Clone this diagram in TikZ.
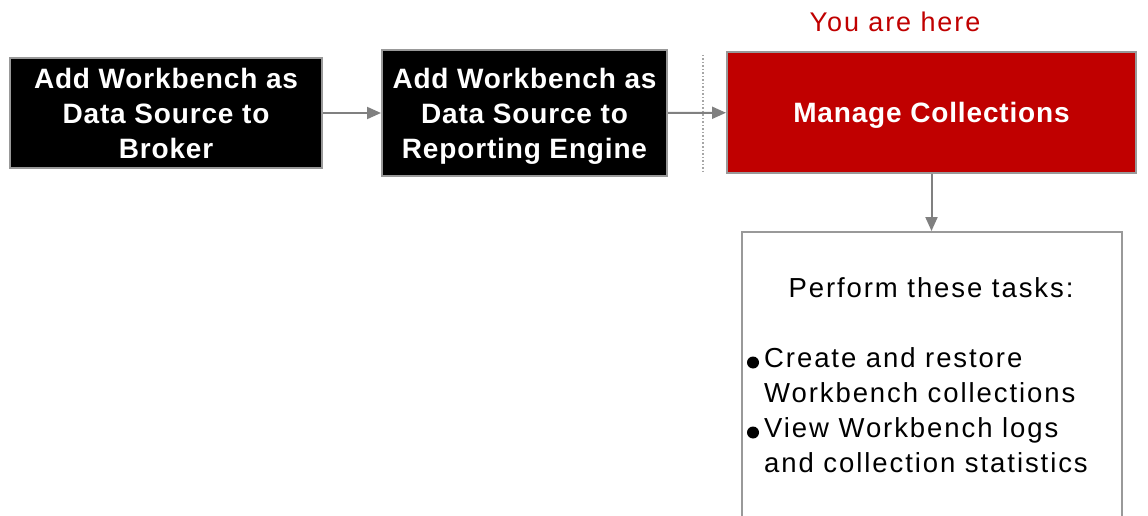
\documentclass[tikz,border=0pt]{standalone}
\usepackage{fontspec}
\setmainfont{Liberation Sans}
\newfontfamily\boldtrack[LetterSpace=3]{Liberation Sans Bold}
\newfontfamily\regtrack[LetterSpace=7]{Liberation Sans}
\newfontfamily\redtrack[LetterSpace=7]{Liberation Sans}
\usetikzlibrary{arrows.meta}
\definecolor{hired}{HTML}{C00000}
\definecolor{linegray}{HTML}{808080}
\definecolor{bordergray}{HTML}{999999}
\tikzset{
  stepbox/.style={draw=bordergray, line width=2pt, fill=black, text=white,
    align=center, inner sep=0pt, text depth=0pt,
    font=\boldtrack\fontsize{28}{35}\selectfont},
  herebox/.style={stepbox, fill=hired},
  taskbox/.style={draw=bordergray, line width=2pt, fill=white, inner sep=0pt},
  conn/.style={draw=linegray, line width=2pt, -{Triangle[length=14pt,width=12pt]}},
  listtext/.style={align=left, inner sep=0pt, text=black,
    font=\regtrack\fontsize{27.5}{35}\selectfont},
}
\begin{document}
\begin{tikzpicture}[x=1pt,y=-1pt]
\useasboundingbox (0,0) rectangle (1148,516);
\clip (0,0) rectangle (1148,516);
\fill[white] (0,0) rectangle (1148,516);
\node[stepbox, minimum width=312pt, minimum height=110pt] (b1) at (166,113)
  {Add Workbench as\\Data Source to\\Broker};
\node[stepbox, minimum width=285pt, minimum height=126pt] (b2) at (524.5,113)
  {Add Workbench as\\Data Source to\\Reporting Engine};
\node[herebox, minimum width=409pt, minimum height=121pt] (b3) at (931.5,112.5)
  {Manage Collections};
\node[anchor=base, inner sep=0pt, text=hired, font=\redtrack\fontsize{27}{32}\selectfont] (here) at (895,32) {You are here};
\coordinate (dtop) at (703,55);
\coordinate (dbot) at (703,172);
\draw[linegray!70, line width=1.5pt, dotted] (dtop) -- (dbot);
\node[taskbox, minimum width=380pt, minimum height=328pt] (b4) at (932,396) {};
\node[anchor=base, inner sep=0pt, font=\regtrack\fontsize{27.5}{35}\selectfont] (ptitle) at (931,297) {Perform these tasks:};
\node[listtext, anchor=base west] (items) at (764,472)
  {Create and restore\\Workbench collections\\View Workbench logs\\and collection statistics};
\fill[black] (753,362.5) circle (6pt);
\fill[black] (753,432.5) circle (6pt);
\draw[conn] (b1) -- (b2);
\draw[conn] (b2) -- (b3);
\draw[conn] (b3.south) -- (b3.south |- b4.north);
\end{tikzpicture}
\end{document}
